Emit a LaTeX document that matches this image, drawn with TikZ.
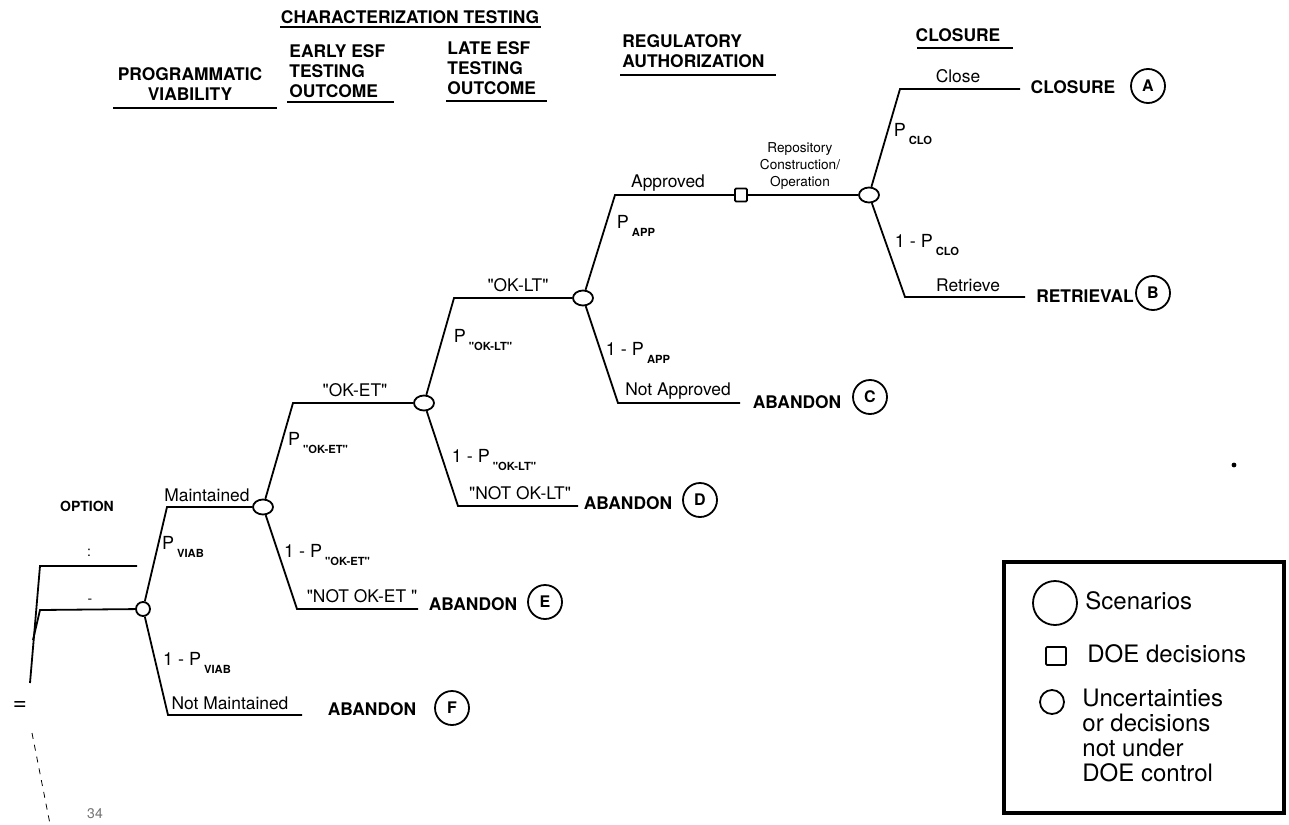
\documentclass[tikz,border=0pt]{standalone}
\usepackage{fontspec}
\setmainfont{TeX Gyre Heros}[Ligatures=TeXOff]
\usetikzlibrary{shapes.geometric}

% probability with lowered bold subscript
\newcommand\pb[1]{P\,\raisebox{-0.9ex}{\fontsize{5.6}{6}\selectfont\bfseries #1}}

\begin{document}
\begin{tikzpicture}[
  x = 0.5pt, y = -0.5pt,
  every node/.style = {inner sep=1pt, font=\fontsize{8.7}{10}\selectfont},
  branch/.style     = {draw, line width=0.9pt},
  chance/.style     = {draw, ellipse, line width=0.9pt, fill=white,
                       minimum width=10pt, minimum height=7.5pt, inner sep=0pt},
  doe/.style        = {draw, rectangle, rounded corners=0.6pt, line width=0.9pt,
                       fill=white, minimum width=6pt, minimum height=6.5pt, inner sep=0pt},
  head/.style       = {font=\fontsize{8.7}{10}\selectfont\bfseries, align=left, inner sep=0pt},
  rule/.style       = {line width=0.9pt},
  outcome/.style    = {font=\fontsize{8.7}{10}\selectfont\bfseries},
  scen/.style       = {draw, circle, line width=0.9pt, minimum size=17pt, inner sep=0pt,
                       font=\fontsize{8}{9}\selectfont\bfseries},
  prob/.style       = {font=\fontsize{9}{10}\selectfont},
  small/.style      = {font=\fontsize{6.8}{8.5}\selectfont, align=center, inner sep=0pt},
  key/.style        = {font=\fontsize{12}{12.5}\selectfont, inner sep=0pt},
]
\useasboundingbox (0,0) rectangle (1289,824);

% headings
\node[head, align=center] (hprog) at (190,84) {PROGRAMMATIC\\VIABILITY};
\node[head] (hchar) at (410,17) {CHARACTERIZATION TESTING};
\node[head, anchor=west] (hearly) at (289,71) {EARLY ESF\\TESTING\\OUTCOME};
\node[head, anchor=west] (hlate)  at (447,68) {LATE ESF\\TESTING\\OUTCOME};
\node[head, anchor=west] (hreg)   at (622,51) {REGULATORY\\AUTHORIZATION};
\node[head] (hclos) at (958,35) {CLOSURE};
\draw[rule] (113,108) -- (277,108);
\draw[rule] (280,27)  -- (541,27);
\draw[rule] (287,102) -- (394,102);
\draw[rule] (446,101) -- (547,101);
\draw[rule] (620,75)  -- (776,75);
\draw[rule] (917,48)  -- (1013,48);

% tree nodes
\node[chance, minimum width=7pt, minimum height=7pt] (n0) at (143,609) {};
\node[chance] (n1) at (263,507) {};
\node[chance] (n2) at (424,403) {};
\node[chance] (n3) at (583,298) {};
\node[doe]    (sq) at (741,195) {};
\node[chance] (n4) at (869,195) {};

% corners and free ends
\coordinate (c1)  at (167,507);  \coordinate (c2)  at (168,715);  \coordinate (e2)  at (302,715);
\coordinate (c3)  at (293,403);  \coordinate (c4)  at (297,609);  \coordinate (e4)  at (418,609);
\coordinate (c5)  at (454,298);  \coordinate (c6)  at (458,506);  \coordinate (e6)  at (578,506);
\coordinate (c7)  at (615,195);  \coordinate (c8)  at (618,403);  \coordinate (e8)  at (740,403);
\coordinate (c9)  at (900,89);   \coordinate (e9)  at (1020,89);
\coordinate (c10) at (905,297);  \coordinate (e10) at (1025,297);

\foreach \a/\b/\c in {n0/c1/n1, n0/c2/e2, n1/c3/n2, n1/c4/e4,
                      n2/c5/n3, n2/c6/e6, n3/c7/sq, n3/c8/e8,
                      n4/c9/e9, n4/c10/e10}
  \draw[branch] (\a) -- (\b) -- (\c);
\draw[branch] (sq) -- (n4);

% option stubs on the left
\coordinate (o1)  at (40,566);  \coordinate (o1e) at (137,566);  \coordinate (o1b) at (30,683);
\coordinate (o2)  at (40,610);  \coordinate (o2b) at (33,640);
\coordinate (o3)  at (32,733);  \coordinate (o3b) at (50,824);
\draw[branch] (o1b) -- (o1) -- (o1e);
\draw[branch] (o2b) -- (o2) -- (n0);
\draw[thin, dashed] (o3) -- (o3b);
\node[font=\fontsize{7}{8}\selectfont\bfseries] (opt) at (87,506) {OPTION};
\node[font=\fontsize{7}{8}\selectfont] (optA) at (89,553) {:};
\node[font=\fontsize{7}{8}\selectfont] (optB) at (90,601) {-};
\node[font=\fontsize{12}{12}\selectfont] (eq) at (20,706) {=};
\node[font=\fontsize{7}{8}\selectfont, text=black!55] (pg) at (95,814) {34};

% branch labels
\node (lMa)  at (207,495) {Maintained};
\node[prob] (pV)   at (183,547) {\pb{VIAB}};
\node[prob] (qV)   at (197,663) {1 - \pb{VIAB}};
\node (lNM)  at (230,703) {Not Maintained};
\node (lOE)  at (355,390) {"OK-ET"};
\node[prob] (pOE)  at (318,443) {\pb{"OK-ET"}};
\node[prob] (qOE)  at (327,555) {1 - \pb{"OK-ET"}};
\node (lNOE) at (362,596) {"NOT OK-ET "};
\node (lOL)  at (518,285) {"OK-LT"};
\node[prob] (pOL)  at (483,340) {\pb{"OK-LT"}};
\node[prob] (qOL)  at (494,460) {1 - \pb{"OK-LT"}};
\node (lNOL) at (520,493) {"NOT OK-LT"};
\node (lAp)  at (668,183) {Approved};
\node[prob] (pAp)  at (636,226) {\pb{APP}};
\node[prob] (qAp)  at (638,353) {1 - \pb{APP}};
\node (lNA)  at (678,391) {Not Approved};
\node[small] (lRep) at (800,166) {Repository\\Construction/\\Operation};
\node[prob] (pCl)  at (913,134) {\pb{CLO}};
\node[prob] (qCl)  at (927,245) {1 - \pb{CLO}};
\node (lCl)  at (958,76)  {Close};
\node (lRe)  at (968,285) {Retrieve};

% scenarios
\node[outcome] (xF) at (372,709) {ABANDON};   \node[scen] (sF) at (452,708) {F};
\node[outcome] (xE) at (473,604) {ABANDON};   \node[scen] (sE) at (545,602) {E};
\node[outcome] (xD) at (628,503) {ABANDON};   \node[scen] (sD) at (700,500) {D};
\node[outcome] (xC) at (797,402) {ABANDON};   \node[scen] (sC) at (870,397) {C};
\node[outcome] (xA) at (1073,87) {CLOSURE};   \node[scen] (sA) at (1148,86) {A};
\node[outcome] (xB) at (1085,296) {RETRIEVAL};\node[scen] (sB) at (1153,293) {B};

\fill (1234,465) circle (1.2pt);

% legend
\draw[line width=1.6pt] (1004,562) rectangle (1284,813);
\node[draw, circle, line width=0.9pt, minimum size=22pt, inner sep=0pt] (kS) at (1055,603) {};
\node[key, anchor=west] (tS) at (1085,601) {Scenarios};
\node[doe, minimum width=10pt, minimum height=9pt] (kD) at (1056,656) {};
\node[key, anchor=west] (tD) at (1087,654) {DOE decisions};
\node[draw, circle, line width=0.9pt, minimum size=12pt, inner sep=0pt] (kU) at (1052,702) {};
\node[key, anchor=north west, align=left] (tU) at (1082,689)
  {Uncertainties\\or decisions\\not under\\DOE control};

\end{tikzpicture}
\end{document}
